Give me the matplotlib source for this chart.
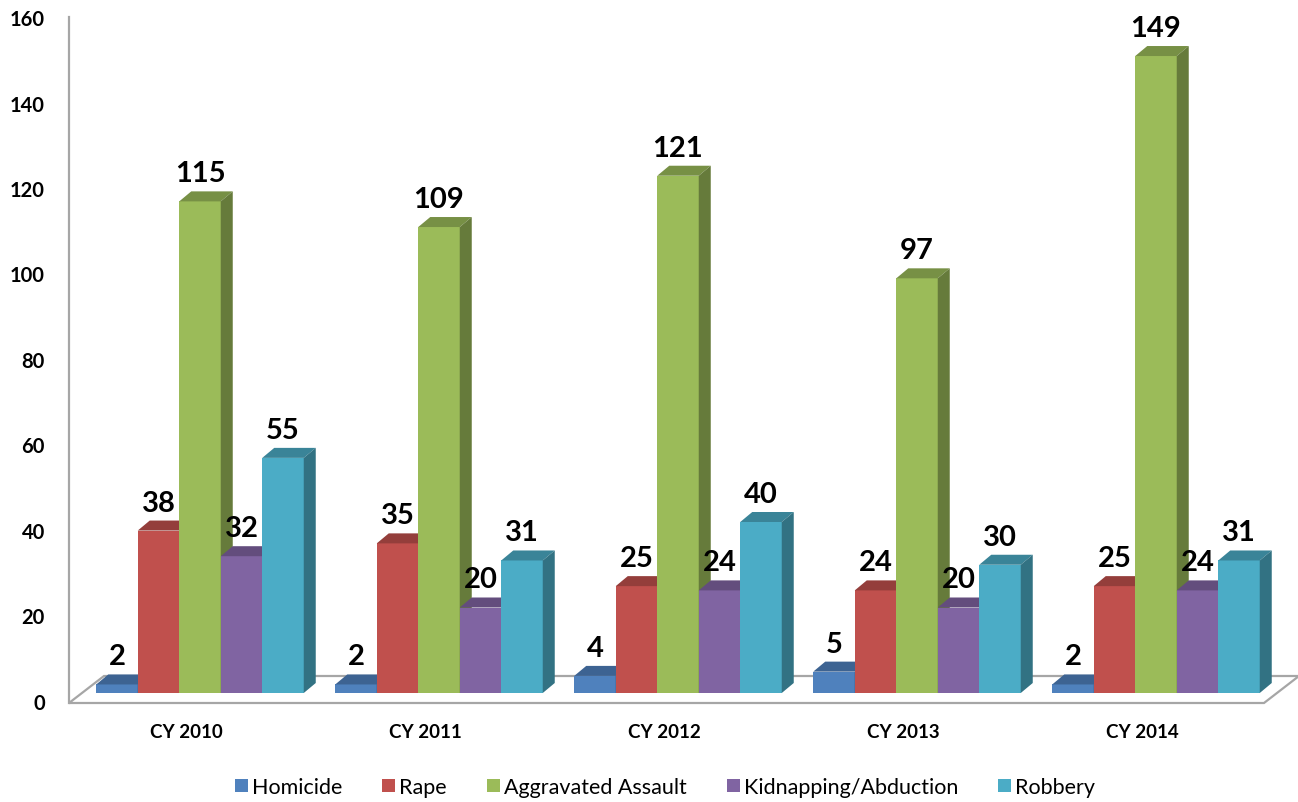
import matplotlib
matplotlib.use('Agg')  # Non-interactive backend

import matplotlib.pyplot as plt
import numpy as np
from matplotlib.patches import Polygon, Patch

plt.rcParams['font.family'] = ['Lato', 'DejaVu Sans']

# Data
years = ['CY 2010', 'CY 2011', 'CY 2012', 'CY 2013', 'CY 2014']
series = ['Homicide', 'Rape', 'Aggravated Assault', 'Kidnapping/Abduction', 'Robbery']
homicide = [2, 2, 4, 5, 2]
rape = [38, 35, 25, 24, 25]
assault = [115, 109, 121, 97, 149]
kidnapping = [32, 20, 24, 20, 24]
robbery = [55, 31, 40, 30, 31]
y_ticks = [0, 20, 40, 60, 80, 100, 120, 140, 160]

colors = ['#4F81BD', '#C0504D', '#9BBB59', '#8064A2', '#4BACC6']

# Layout, in pixels of a 1298x803 canvas
DPI = 100
W, H = 1298, 803
PX_X = 239.0      # px per category
PX_Y = 4.275      # px per unit
X0 = 69           # pixel of x = -0.5
Y0 = 704          # pixel (from top) of y = 0


def dx(px):
    return px / PX_X


def dy(px):
    return px / PX_Y


def shade(c, f):
    rgb = np.array(matplotlib.colors.to_rgb(c))
    return tuple(rgb * f)


fig = plt.figure(figsize=(W / DPI, H / DPI), dpi=DPI)
ax = fig.add_axes([0, 0, 1, 1])
xl = -0.5 - dx(X0)
ax.set_xlim(xl, xl + dx(W))
yb = -dy(H - Y0)
ax.set_ylim(yb, yb + dy(H))
ax.axis('off')

# Floor and vertical axis
fdx, fdy = dx(35), dy(27)
floor = Polygon([(-0.5, 0), (4.5, 0), (4.5 + fdx, fdy), (-0.5 + fdx, fdy)],
                closed=True, facecolor='white', edgecolor='#A6A6A6', lw=1.6, zorder=1)
ax.add_patch(floor)
ax.plot([-0.5, -0.5], [0, dy(Y0 - 18)], color='#A6A6A6', lw=1.6, zorder=1)

for t in y_ticks:
    ax.text(-0.5 - dx(24), t, str(t), ha='right', va='center',
            fontsize=14.5, fontweight='bold', color='black')

for i, yr in enumerate(years):
    ax.text(i - dx(2), dy(-29), yr, ha='center', va='center',
            fontsize=13.5, fontweight='bold', color='black')

# 3D-ish bars
values = [homicide, rape, assault, kidnapping, robbery]
n = len(series)
w = dx(41.5)
off_x, off_y = dx(11.5), dy(10)      # front face sits back from floor front
ddx, ddy = dx(12), dy(10)            # bar depth
x = np.arange(len(years))

for j, (name, vals) in enumerate(zip(series, values)):
    pos = x + (j - (n - 1) / 2) * w + off_x
    bars = ax.bar(pos, vals, width=w, bottom=off_y, color=colors[j],
                  linewidth=0, label=name)
    for i, rect in enumerate(bars):
        z = 2 + (i * n + j) * 0.01
        rect.set_zorder(z)
        l = rect.get_x()
        r = l + rect.get_width()
        b = rect.get_y()
        t = b + rect.get_height()
        top = Polygon([(l, t), (r, t), (r + ddx, t + ddy), (l + ddx, t + ddy)],
                      closed=True, facecolor=shade(colors[j], 0.77), lw=0, zorder=z)
        side = Polygon([(r, b), (r + ddx, b + ddy), (r + ddx, t + ddy), (r, t)],
                       closed=True, facecolor=shade(colors[j], 0.66), lw=0, zorder=z)
        ax.add_patch(top)
        ax.add_patch(side)
        ax.text(l + w / 2, t + ddy + dy(10), str(vals[i]), ha='center', va='baseline',
                fontsize=21, fontweight='bold', color='black', zorder=10)

handles = [Patch(facecolor=c, edgecolor='none') for c in colors]
fig.legend(handles, series, loc='center', bbox_to_anchor=(665 / W, 15 / H), ncol=5,
           frameon=False, fontsize=15.5, handlelength=0.6, handleheight=0.6,
           handletextpad=0.2, columnspacing=1.85)

plt.savefig('out.png', dpi=DPI)
